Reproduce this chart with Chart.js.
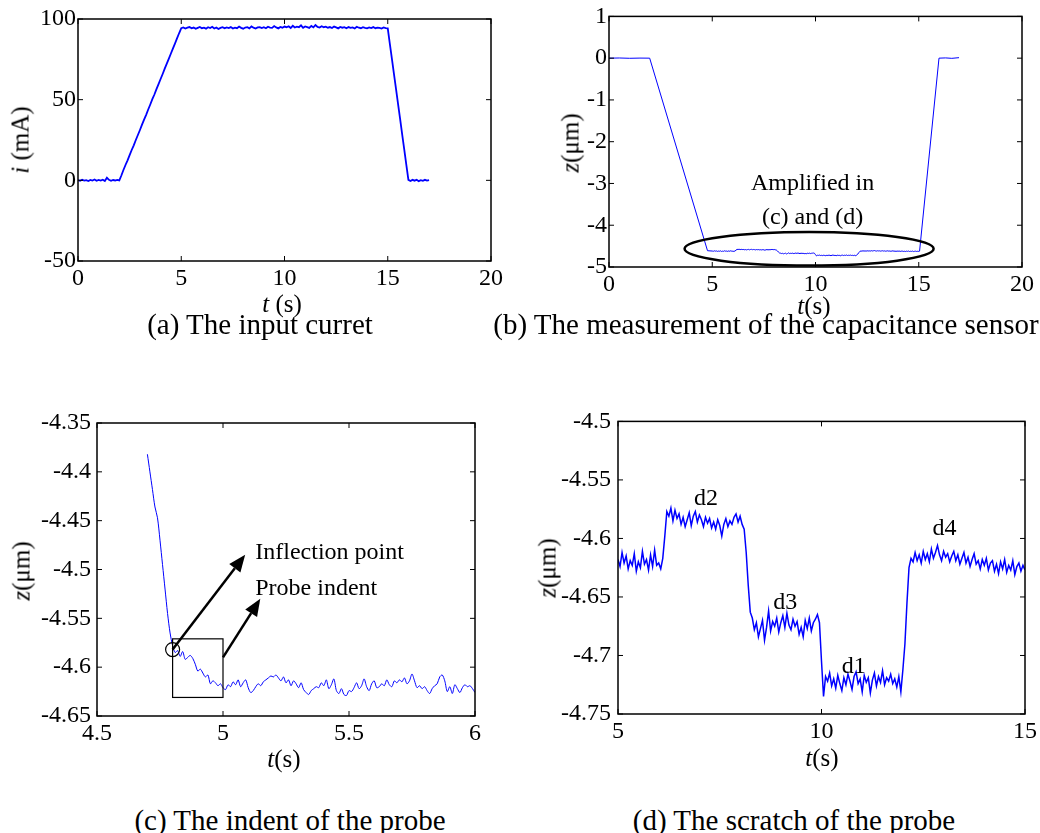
<!DOCTYPE html>
<html>
<head>
<meta charset="utf-8">
<script src="https://cdn.jsdelivr.net/npm/chart.js@4.4.1/dist/chart.umd.min.js"></script>
<style>
  body { margin: 0; background: #fff; width: 1040px; height: 833px; position: relative; overflow: hidden;
         font-family: "Liberation Serif", "Times New Roman", serif; color: #000; }
  .box { position: absolute; }
  .txt { position: absolute; white-space: nowrap; line-height: 1; transform: translate(-50%, -50%); }
  .cap { font-size: 29px; }
  .ax { font-size: 25px; }
  .rot { transform: translate(-50%, -50%) rotate(-90deg); }
</style>
</head>
<body>
<div class="box" style="left:0;top:0;width:520px;height:300px"><canvas id="chart-a"></canvas></div>
<div class="box" style="left:520px;top:0;width:520px;height:300px"><canvas id="chart-b"></canvas></div>
<div class="box" style="left:0;top:400px;width:520px;height:380px"><canvas id="chart-c"></canvas></div>
<div class="box" style="left:520px;top:400px;width:520px;height:380px"><canvas id="chart-d"></canvas></div>

<div class="txt ax rot" style="left:20px;top:140px"><i>i</i> (mA)</div>
<div class="txt ax" style="left:282px;top:303px"><i>t</i> (s)</div>
<div class="txt ax rot" style="left:570px;top:143px"><i>z</i>(μm)</div>
<div class="txt ax" style="left:814px;top:305px"><i>t</i>(s)</div>
<div class="txt ax rot" style="left:21px;top:571px"><i>z</i>(μm)</div>
<div class="txt ax" style="left:284px;top:758px"><i>t</i>(s)</div>
<div class="txt ax rot" style="left:547px;top:568px"><i>z</i>(μm)</div>
<div class="txt ax" style="left:822px;top:757px"><i>t</i>(s)</div>

<div class="txt cap" style="left:260px;top:324px">(a) The input curret</div>
<div class="txt cap" style="left:766px;top:324px">(b) The measurement of the capacitance sensor</div>
<div class="txt cap" style="left:290px;top:820px">(c) The indent of the probe</div>
<div class="txt cap" style="left:794px;top:820px">(d) The scratch of the probe</div>

<script>
// (a) input current, sampled every 0.1 s from 0 to 17 s
const aStart = 0, aStep = 0.1;
const aValues = [
  0.2, -0.3, 0.4, -0.2, 0.1, -0.4, 0.3, -0.1, 0.5, -0.3,
  0.2, -0.2, 0.4, -0.4, 1.6, 0.3, -0.3, 0.2, -0.1, 0.3,
  0, 3.0, 6.4, 9.5, 12.4, 15.6, 18.8, 21.7, 25.0, 28.1,
  31.2, 34.5, 37.6, 40.6, 43.9, 47.0, 50.3, 53.2, 56.5, 59.6,
  62.8, 65.9, 69.2, 72.3, 75.4, 78.6, 81.8, 84.9, 88.1, 91.3, 94.3,
  94.8, 94.1, 94.6, 95.0, 94.2, 94.7, 93.9, 94.5, 95.1, 94.3,
  94.6, 94.0, 94.9, 94.4, 95.2, 94.1, 94.7, 93.8, 94.5, 94.9,
  94.2, 94.8, 94.4, 95.0, 94.1, 94.6, 94.3, 95.3, 94.5, 94.0,
  94.7, 94.9, 94.2, 95.4, 94.6, 94.1, 94.8, 95.0, 94.4, 94.9,
  94.3, 95.2, 94.7, 94.5, 95.6, 94.8, 94.2, 95.1, 94.6, 95.3,
  94.9, 95.5, 94.4, 95.8, 94.7, 95.2, 94.9, 96.1, 94.6, 95.4,
  95.0, 94.5, 95.7, 94.8, 96.3, 95.1, 94.7, 95.5, 94.9, 95.2,
  94.6, 95.0, 94.4, 95.3, 94.8, 94.2, 95.1, 94.6, 94.9, 94.3,
  95.0, 94.5, 94.8, 94.1, 95.2, 94.6, 94.3, 94.9, 94.5, 94.2,
  94.8, 94.4, 95.0, 94.3, 94.7, 94.5, 94.1, 94.8, 94.4,
  94.2, 84.8, 75.5, 66.0, 56.7, 47.3, 37.9, 28.4, 19.0, 9.6, 0.3,
  -0.4, 0.3, -0.2, 0.4, -0.5, 0.1, -0.3, 0.3, -0.2, 0.1
];
const aXTicks = [0, 5, 10, 15, 20];
const aXLabels = ['0', '5', '10', '15', '20'];
const aYTicks = [-50, 0, 50, 100];
const aYLabels = ['-50', '0', '50', '100'];

// (d) scratch, sampled every 0.05 s from 5 to 15 s
const dStart = 5, dStep = 0.05;
const dValues = [
  -4.618, -4.624, -4.612, -4.621, -4.615, -4.626, -4.619, -4.623, -4.613, -4.628,
  -4.620, -4.625, -4.611, -4.622, -4.618, -4.627, -4.614, -4.624, -4.610, -4.623,
  -4.621, -4.626, -4.617,
  -4.598, -4.577, -4.581, -4.574, -4.585, -4.576, -4.583, -4.579, -4.588, -4.582,
  -4.590, -4.584, -4.578, -4.589, -4.581, -4.577, -4.586, -4.580, -4.584, -4.590,
  -4.582, -4.587, -4.583, -4.591, -4.586, -4.592, -4.584, -4.589, -4.598, -4.588,
  -4.583, -4.590, -4.585, -4.588, -4.582, -4.579, -4.586, -4.581, -4.588, -4.592,
  -4.612, -4.640, -4.663,
  -4.668, -4.678, -4.672, -4.684, -4.677, -4.670, -4.687, -4.676, -4.662, -4.679,
  -4.671, -4.675, -4.668, -4.680, -4.672, -4.666, -4.676, -4.664, -4.674, -4.678,
  -4.669, -4.675, -4.671, -4.682, -4.676, -4.684, -4.670, -4.677, -4.668, -4.679,
  -4.672, -4.669, -4.665, -4.672,
  -4.705, -4.735, -4.718, -4.722, -4.715, -4.726, -4.720, -4.728, -4.717, -4.724,
  -4.730, -4.719, -4.725, -4.716, -4.722, -4.729, -4.718, -4.714, -4.724, -4.720,
  -4.731, -4.717, -4.723, -4.719, -4.732, -4.721, -4.715, -4.726, -4.718, -4.723,
  -4.713, -4.725, -4.719, -4.722, -4.716, -4.724, -4.720, -4.727, -4.718, -4.731,
  -4.712, -4.690, -4.655, -4.625,
  -4.617, -4.620, -4.612, -4.619, -4.614, -4.621, -4.611, -4.618, -4.613, -4.620,
  -4.609, -4.617, -4.612, -4.606, -4.614, -4.619, -4.611, -4.616, -4.613, -4.620,
  -4.615, -4.611, -4.619, -4.614, -4.622, -4.617, -4.612, -4.621, -4.616, -4.624,
  -4.618, -4.613, -4.622, -4.619, -4.626, -4.618, -4.623, -4.617, -4.627, -4.621,
  -4.619, -4.628, -4.622, -4.630, -4.620, -4.626, -4.618, -4.629, -4.623, -4.627,
  -4.619, -4.631, -4.624, -4.621, -4.628, -4.623, -4.627
];
const dXTicks = [5, 10, 15];
const dXLabels = ['5', '10', '15'];
const dYTicks = [-4.75, -4.7, -4.65, -4.6, -4.55, -4.5];
const dYLabels = ['-4.75', '-4.7', '-4.65', '-4.6', '-4.55', '-4.5'];

// (b) capacitance sensor: lead-in and lead-out around the (d) record
const bLeadTimes = [0, 0.5, 1.0, 1.5, 1.97, 4.77];
const bLeadValues = [0, 0.004, -0.003, 0.002, 0, -4.61];
const bTailTimes = [15.04, 15.98, 16.3, 16.6, 16.95];
const bTailValues = [-4.62, 0, 0.006, -0.004, 0.012];
const bXTicks = [0, 5, 10, 15, 20];
const bXLabels = ['0', '5', '10', '15', '20'];
const bYTicks = [-5, -4, -3, -2, -1, 0, 1];
const bYLabels = ['-5', '-4', '-3', '-2', '-1', '0', '1'];

// (c) indent, sampled every 0.01 s from 4.70 to 6.00 s
const cStart = 4.7, cStep = 0.01;
const cValues = [
  -4.382, -4.400, -4.418, -4.436, -4.447, -4.470, -4.495, -4.520, -4.545, -4.565, -4.578,
  -4.585, -4.583, -4.589, -4.584, -4.592, -4.590, -4.588, -4.591, -4.597, -4.604,
  -4.602, -4.606, -4.610, -4.608, -4.617, -4.614, -4.616, -4.619, -4.617, -4.621,
  -4.623, -4.618, -4.620, -4.615, -4.618, -4.613, -4.620, -4.616, -4.613, -4.621,
  -4.626, -4.624, -4.620, -4.617, -4.619, -4.615, -4.613, -4.611, -4.609, -4.610,
  -4.608, -4.611, -4.614, -4.610, -4.616, -4.613, -4.619, -4.614, -4.617, -4.621,
  -4.616, -4.623, -4.626, -4.628, -4.624, -4.622, -4.620, -4.621, -4.616, -4.619,
  -4.613, -4.622, -4.618, -4.612, -4.624, -4.627, -4.622, -4.628, -4.629, -4.624,
  -4.625, -4.621, -4.616, -4.622, -4.619, -4.612, -4.620, -4.624, -4.617, -4.614,
  -4.621, -4.620, -4.617, -4.619, -4.613, -4.618, -4.620, -4.614, -4.616, -4.613,
  -4.615, -4.611, -4.617, -4.614, -4.607, -4.614, -4.621, -4.619, -4.622, -4.620,
  -4.624, -4.627, -4.622, -4.619, -4.617, -4.610, -4.608, -4.614, -4.625, -4.620,
  -4.627, -4.618, -4.622, -4.626, -4.621, -4.618, -4.620, -4.619, -4.622, -4.626
];
const cXTicks = [4.5, 5, 5.5, 6];
const cXLabels = ['4.5', '5', '5.5', '6'];
const cYTicks = [-4.65, -4.6, -4.55, -4.5, -4.45, -4.4, -4.35];
const cYLabels = ['-4.65', '-4.6', '-4.55', '-4.5', '-4.45', '-4.4', '-4.35'];

function sampleTimes(start, step, n) {
  const out = [];
  for (let i = 0; i < n; i++) out.push(Math.round((start + i * step) * 1000) / 1000);
  return out;
}
const aTimes = sampleTimes(aStart, aStep, aValues.length);
const dTimes = sampleTimes(dStart, dStep, dValues.length);
const cTimes = sampleTimes(cStart, cStep, cValues.length);
const bTimes = bLeadTimes.concat(dTimes, bTailTimes);
const bValues = bLeadValues.concat(dValues, bTailValues);

const serif = "'Liberation Serif', 'Times New Roman', serif";
Chart.defaults.font.family = serif;

// MATLAB style box with inward ticks on all four sides
const frame = {
  id: 'frame',
  afterDraw(chart) {
    const { ctx, chartArea: a, scales: { x, y } } = chart;
    ctx.save();
    ctx.strokeStyle = '#000';
    ctx.lineWidth = 1.5;
    ctx.strokeRect(a.left, a.top, a.right - a.left, a.bottom - a.top);
    ctx.lineWidth = 1;
    ctx.beginPath();
    x.ticks.forEach(t => {
      const p = x.getPixelForValue(t.value);
      ctx.moveTo(p, a.bottom); ctx.lineTo(p, a.bottom - 5);
      ctx.moveTo(p, a.top); ctx.lineTo(p, a.top + 5);
    });
    y.ticks.forEach(t => {
      const p = y.getPixelForValue(t.value);
      ctx.moveTo(a.left, p); ctx.lineTo(a.left + 5, p);
      ctx.moveTo(a.right, p); ctx.lineTo(a.right - 5, p);
    });
    ctx.stroke();
    ctx.restore();
  }
};

function label(ctx, text, px, py, align) {
  ctx.font = '24px ' + serif;
  ctx.fillStyle = '#000';
  ctx.textAlign = align || 'center';
  ctx.textBaseline = 'middle';
  ctx.fillText(text, px, py);
}

function arrow(ctx, x1, y1, x2, y2) {
  const ang = Math.atan2(y2 - y1, x2 - x1), L = 17, W = 7;
  const bx = x2 - L * Math.cos(ang), by = y2 - L * Math.sin(ang);
  ctx.strokeStyle = '#000';
  ctx.fillStyle = '#000';
  ctx.lineWidth = 2.5;
  ctx.beginPath(); ctx.moveTo(x1, y1); ctx.lineTo(bx, by); ctx.stroke();
  ctx.beginPath();
  ctx.moveTo(x2, y2);
  ctx.lineTo(bx - W * Math.sin(ang), by + W * Math.cos(ang));
  ctx.lineTo(bx + W * Math.sin(ang), by - W * Math.cos(ang));
  ctx.closePath(); ctx.fill();
}

function makeChart(id, times, values, o) {
  const tickFont = { family: serif, size: 24 };
  return new Chart(document.getElementById(id), {
    type: 'line',
    data: {
      datasets: [{
        data: times.map((t, i) => ({ x: t, y: values[i] })),
        borderColor: '#0000ff',
        borderWidth: o.lw,
        pointRadius: 0,
        tension: o.tension || 0,
        fill: false
      }]
    },
    options: {
      responsive: true,
      maintainAspectRatio: false,
      animation: false,
      layout: { padding: o.pad },
      plugins: { legend: { display: false }, tooltip: { enabled: false } },
      scales: {
        x: {
          type: 'linear', min: o.xTicks[0], max: o.xTicks[o.xTicks.length - 1],
          afterBuildTicks: s => { s.ticks = o.xTicks.map(v => ({ value: v })); },
          afterFit: s => { s.height = o.xH; },
          grid: { display: false, drawTicks: false },
          border: { display: false },
          ticks: { font: tickFont, color: '#000', padding: 3, maxRotation: 0, autoSkip: false,
                   callback: (v, i) => o.xLabels[i] }
        },
        y: {
          type: 'linear', min: o.yTicks[0], max: o.yTicks[o.yTicks.length - 1],
          afterBuildTicks: s => { s.ticks = o.yTicks.map(v => ({ value: v })); },
          afterFit: s => { s.width = o.yW; },
          grid: { display: false, drawTicks: false },
          border: { display: false },
          ticks: { font: tickFont, color: '#000', padding: o.yPad, autoSkip: false,
                   callback: (v, i) => o.yLabels[i] }
        }
      }
    },
    plugins: [frame, { id: 'notes', afterDraw: chart => { if (o.notes) o.notes(chart); } }]
  });
}

makeChart('chart-a', aTimes, aValues, {
  lw: 1.8, pad: { top: 19, right: 29, bottom: 0, left: 0 }, xH: 39, yW: 78, yPad: 2,
  xTicks: aXTicks, xLabels: aXLabels, yTicks: aYTicks, yLabels: aYLabels
});

makeChart('chart-b', bTimes, bValues, {
  lw: 1, pad: { top: 15, right: 18, bottom: 0, left: 0 }, xH: 33, yW: 89, yPad: 2,
  xTicks: bXTicks, xLabels: bXLabels, yTicks: bYTicks, yLabels: bYLabels,
  notes: chart => {
    const { ctx, scales: { x, y } } = chart;
    const cx = x.getPixelForValue(9.69), cy = y.getPixelForValue(-4.565);
    const rx = x.getPixelForValue(9.69 + 6.03) - cx;
    const ry = y.getPixelForValue(-4.565 - 0.40) - cy;
    ctx.save();
    ctx.strokeStyle = '#000';
    ctx.lineWidth = 2.5;
    ctx.beginPath();
    ctx.ellipse(cx, cy, rx, Math.abs(ry), 0, 0, 2 * Math.PI);
    ctx.stroke();
    label(ctx, 'Amplified in', x.getPixelForValue(9.86), y.getPixelForValue(-3.0));
    label(ctx, '(c) and (d)', x.getPixelForValue(9.86), y.getPixelForValue(-3.83));
    ctx.restore();
  }
});

makeChart('chart-c', cTimes, cValues, {
  lw: 1, tension: 0.3, pad: { top: 23, right: 45, bottom: 0, left: 0 }, xH: 64, yW: 97, yPad: 6,
  xTicks: cXTicks, xLabels: cXLabels, yTicks: cYTicks, yLabels: cYLabels,
  notes: chart => {
    const { ctx, scales: { x, y } } = chart;
    ctx.save();
    ctx.strokeStyle = '#000';
    ctx.lineWidth = 1.2;
    const l = x.getPixelForValue(4.8), r = x.getPixelForValue(5.0);
    const t = y.getPixelForValue(-4.571), b = y.getPixelForValue(-4.631);
    ctx.strokeRect(l, t, r - l, b - t);
    const ccx = x.getPixelForValue(4.8), ccy = y.getPixelForValue(-4.582);
    ctx.beginPath(); ctx.arc(ccx, ccy, 7, 0, 2 * Math.PI); ctx.stroke();
    arrow(ctx, ccx, ccy, x.getPixelForValue(5.088), y.getPixelForValue(-4.485));
    arrow(ctx, r, y.getPixelForValue(-4.590), x.getPixelForValue(5.148), y.getPixelForValue(-4.530));
    label(ctx, 'Inflection point', x.getPixelForValue(5.128), y.getPixelForValue(-4.483), 'left');
    label(ctx, 'Probe indent', x.getPixelForValue(5.128), y.getPixelForValue(-4.520), 'left');
    ctx.restore();
  }
});

makeChart('chart-d', dTimes, dValues, {
  lw: 1.5, pad: { top: 21, right: 12, bottom: 0, left: 0 }, xH: 66, yW: 98, yPad: 7,
  xTicks: dXTicks, xLabels: dXLabels, yTicks: dYTicks, yLabels: dYLabels,
  notes: chart => {
    const { ctx, scales: { x, y } } = chart;
    label(ctx, 'd2', x.getPixelForValue(7.16), y.getPixelForValue(-4.566));
    label(ctx, 'd3', x.getPixelForValue(9.11), y.getPixelForValue(-4.6546));
    label(ctx, 'd1', x.getPixelForValue(10.79), y.getPixelForValue(-4.7097));
    label(ctx, 'd4', x.getPixelForValue(13.02), y.getPixelForValue(-4.5917));
  }
});
</script>
</body>
</html>
